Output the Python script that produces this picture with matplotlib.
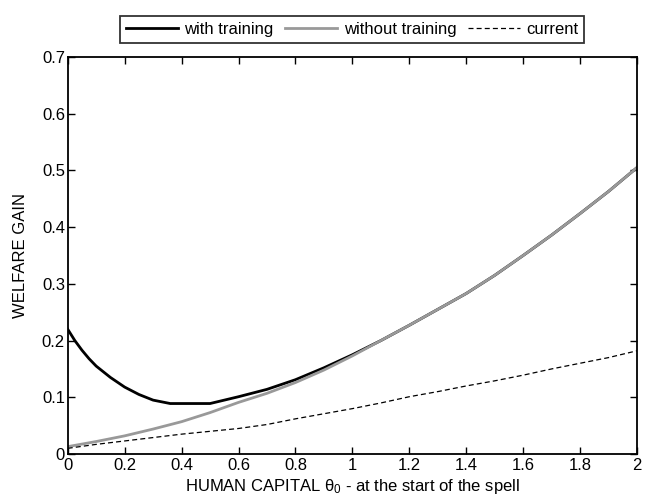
import matplotlib
matplotlib.use("Agg")
import matplotlib.pyplot as plt

plt.rcParams['font.family'] = ['Liberation Sans', 'DejaVu Sans']
plt.rcParams['mathtext.fontset'] = 'custom'
plt.rcParams['mathtext.rm'] = 'Liberation Sans'
plt.rcParams['mathtext.it'] = 'Liberation Sans'

# Data
x_grid = [0.0, 0.1, 0.2, 0.3, 0.4, 0.5, 0.6, 0.7, 0.8, 0.9, 1.0,
          1.1, 1.2, 1.3, 1.4, 1.5, 1.6, 1.7, 1.8, 1.9, 2.0]
without_training = [0.013, 0.022, 0.032, 0.044, 0.057, 0.073, 0.091, 0.107, 0.126, 0.148, 0.173,
                    0.200, 0.227, 0.255, 0.283, 0.315, 0.350, 0.386, 0.424, 0.463, 0.505]
current = [0.010, 0.017, 0.023, 0.029, 0.035, 0.040, 0.045, 0.052, 0.062, 0.071, 0.080,
           0.090, 0.101, 0.110, 0.120, 0.129, 0.139, 0.150, 0.160, 0.170, 0.182]

x_with = [0.0, 0.025, 0.05, 0.075, 0.1, 0.15, 0.2, 0.25, 0.3, 0.36, 0.5, 0.55, 0.6, 0.7, 0.8, 0.9, 1.0,
          1.1, 1.2, 1.3, 1.4, 1.5, 1.6, 1.7, 1.8, 1.9, 2.0]
with_training = [0.220, 0.200, 0.183, 0.168, 0.155, 0.135, 0.118, 0.105, 0.095, 0.089, 0.089, 0.095,
                 0.101, 0.114, 0.131, 0.152, 0.175,
                 0.200, 0.227, 0.255, 0.283, 0.315, 0.350, 0.386, 0.424, 0.463, 0.505]

x_ticks = [0, 0.2, 0.4, 0.6, 0.8, 1, 1.2, 1.4, 1.6, 1.8, 2]
x_ticklabels = ['0', '0.2', '0.4', '0.6', '0.8', '1', '1.2', '1.4', '1.6', '1.8', '2']
y_ticks = [0, 0.1, 0.2, 0.3, 0.4, 0.5, 0.6, 0.7]
y_ticklabels = ['0', '0.1', '0.2', '0.3', '0.4', '0.5', '0.6', '0.7']

fig = plt.figure(figsize=(6.45, 5.03), dpi=100)
ax = fig.add_axes([0.105, 0.0974, 0.8826, 0.7893])

ax.plot(x_with, with_training, color='black', lw=2.0, label='with training')
ax.plot(x_grid, without_training, color='#999999', lw=2.0, label='without training')
ax.plot(x_grid, current, color='black', lw=0.9, ls=(0, (4, 2.5)), label='current')

ax.set_xlim(0, 2)
ax.set_ylim(0, 0.7)
ax.set_xticks(x_ticks)
ax.set_xticklabels(x_ticklabels)
ax.set_yticks(y_ticks)
ax.set_yticklabels(y_ticklabels)
ax.tick_params(direction='in', length=5, width=1, top=True, right=True,
               labelsize=12, colors='black')
ax.tick_params(axis='x', pad=3)
ax.tick_params(axis='y', pad=2)
for s in ax.spines.values():
    s.set_linewidth(1.3)

ax.set_xlabel(r'HUMAN CAPITAL $\theta_0$ - at the start of the spell', fontsize=12, labelpad=3)
ax.set_ylabel('WELFARE GAIN', fontsize=12, labelpad=10)

leg = ax.legend(ncol=3, loc='lower center', bbox_to_anchor=(0.5, 1.035), frameon=True,
                fancybox=False, shadow=False, fontsize=12, handlelength=3.1,
                columnspacing=0.7, handletextpad=0.4, borderpad=0.35, borderaxespad=0)
leg.get_frame().set_edgecolor('black')
leg.get_frame().set_linewidth(1.3)

fig.savefig('out.png', dpi=100)
